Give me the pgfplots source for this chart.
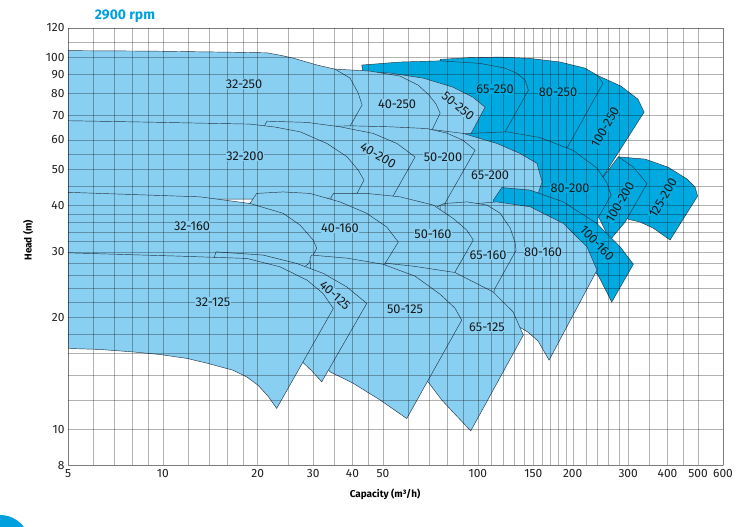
\documentclass[border=0pt]{standalone}
\usepackage{fontspec}
\setmainfont{Fira Sans}
\usepackage{pgfplots}
\pgfplotsset{compat=1.18}
\definecolor{lightreg}{RGB}{137,207,241}
\definecolor{darkreg}{RGB}{0,170,225}
\definecolor{outl}{RGB}{40,55,70}
\definecolor{titleblue}{RGB}{0,160,222}
\begin{document}
\begin{tikzpicture}
\useasboundingbox (-68bp,-61.5bp) rectangle (682bp,465.5bp);
\fill[titleblue] (-68bp,-79.5bp) circle (30bp);
\begin{axis}[
  name=ax, at={(0,0)}, anchor=south west,
  scale only axis, width=655bp, height=437.5bp,
  xmode=log, ymode=log,
  xmin=5, xmax=600, ymin=8, ymax=120,
  axis on top,
  xtick={5,10,20,30,40,50,100,150,200,300,400,500,600},
  xticklabels={5,10,20,30,40,50,100,150,200,300,400,500,600},
  minor xtick={6,7,8,9,12,14,16,18,25,35,45,60,70,80,90,110,120,130,140,160,170,180,190,220,240,260,280,350,450},
  ytick={8,10,20,30,40,50,60,70,80,90,100,120},
  yticklabels={8,10,20,30,40,50,60,70,80,90,100,120},
  minor ytick={12,14,16,18,22,24,26,28,32,34,36,38,45,55,110},
  grid=both,
  major grid style={black, opacity=0.3, line width=0.35pt},
  minor grid style={black, opacity=0.3, line width=0.35pt},
  axis line style={black, opacity=0.3, line width=0.35pt},
  major tick length=0pt, minor tick length=0pt,
  ticklabel style={font=\fontsize{12}{13}\selectfont, text=black!88},
  xlabel={Capacity (m³/h)},
  ylabel={Head (m)},
  xlabel style={font=\bfseries\fontsize{10}{12}\selectfont, at={(axis description cs:0.484,-0.065)}, anchor=center},
  ylabel style={font=\bfseries\fontsize{10}{12}\selectfont, at={(axis description cs:-0.061,0.515)}, anchor=center},
  lreg/.style={fill=lightreg, draw=outl, line width=0.45pt},
  dreg/.style={fill=darkreg, draw=outl, line width=0.45pt},
]
% ---- row 250 ----
\addplot[dreg] coordinates {(136.1,97.2) (182.4,96.0) (218.9,92.5) (238.9,89.6) (284.8,83.7) (322.5,77.2) (337,71.3) (251.5,48.3) (240.6,45.4) (182.4,51.3) (136.1,53.0)} -- cycle;
\addplot[dreg] coordinates {(75.9,98.8) (94.5,99.9) (117.6,100.2) (146.4,99.4) (182.4,97.2) (218.9,93.6) (238.9,89.6) (249.7,85.3) (191.5,56.9) (157.5,54.6) (75.9,54.6)} -- cycle;
\addplot[dreg] coordinates {(42.8,95.4) (56.6,97.2) (75.9,97.9) (101.6,96.4) (122,93.6) (133.2,90.6) (141.2,86.9) (144.7,81.7) (122,63.1) (101.6,56.3) (43.8,56.3) (43.2,91.3)} -- cycle;
\addplot[lreg] coordinates {(39.3,91.9) (52.6,90.8) (67.0,88.0) (83.4,83.2) (96.5,78.2) (105.4,73.5) (94.5,61.8) (75.9,59.9) (39.3,59.9)} -- cycle;
\addplot[lreg] coordinates {(27.3,93.6) (35.5,93.0) (45.5,91.9) (56.6,89.1) (64.6,84.3) (70.0,79.2) (73.7,74.9) (75.9,70.8) (71.5,63.8) (56.6,61.4) (27.3,61.4)} -- cycle;
\addplot[lreg] coordinates {(5,104.3) (9.1,104) (16.3,103.3) (21.4,102.9) (23.55,101.4) (25.9,99.6) (30.9,95.4) (35.2,93) (39.3,88) (41.7,80.2) (42.9,74.5) (39.3,65.4) (37.9,60.7) (13.1,61.8) (5,61.8)} -- cycle;
% ---- row 200 ----
\addplot[dreg] coordinates {(279.3,54.05) (339.4,53.3) (401.7,50.7) (461.5,47.1) (489.3,44.8) (498.3,42.4) (407.6,32.3) (359.8,34.8) (327.3,36.1) (300,36.75) (272.6,38.9)} -- cycle;
\addplot[dreg] coordinates {(279.3,54.05) (311,50.8) (344.4,45.8) (293.3,36.1) (262.8,32.3) (227,41.35) (249.7,47.7)} -- cycle;
\addplot[dreg] coordinates {(87.8,62.2) (94.5,62.5) (123.8,63.1) (157.5,60.9) (200.5,56.3) (238.9,50.4) (257.1,45.9) (264.7,42.6) (240.6,37.0) (240.6,34.35) (182.4,37.7) (117.6,40.1) (87.8,40.1)} -- cycle;
\addplot[lreg] coordinates {(56.6,64.6) (70.5,64.1) (89.7,62.5) (115.1,58.7) (136.1,55.2) (154.1,51.9) (156.4,49.5) (159.9,46.3) (155.3,43.1) (117.6,37.7) (56.6,37.7)} -- cycle;
\addplot[lreg] coordinates {(27.3,64.95) (39.3,65.5) (52.6,65.1) (69.0,64.4) (79.8,62.6) (89.7,59.9) (98.0,56.3) (78.7,40.6) (65.5,37.7) (27.3,37.7)} -- cycle;
\addplot[lreg] coordinates {(21.4,67.4) (28.7,66.9) (36.5,65.1) (46.5,62.5) (55.4,58.7) (63.2,54.0) (53.8,42.4) (42.3,41.35) (21.6,41.35) (21.0,65.4)} -- cycle;
\addplot[lreg] coordinates {(5,67.6) (9.1,67.0) (18.9,66.2) (22.7,65.0) (27.3,63.1) (33.2,58.7) (38.4,54.1) (41.7,49.8) (43.5,46.8) (41.4,43.2) (33.9,41.85) (18.9,41.6) (5,41.6)} -- cycle;
% ---- row 160 ----
\addplot[dreg] coordinates {(119.1,44.7) (146.4,44.0) (186.8,40.9) (238.4,35.8) (282.7,31.0) (311.6,27.8) (266.1,22.0) (240.6,26.0) (182.4,33.3) (136.1,37.7) (113.4,38.9) (112.0,41.35)} -- cycle;
\addplot[lreg] coordinates {(75.9,40.1) (94.5,40.35) (114.8,40.9) (146.4,39.7) (186.4,35.85) (222.1,30.96) (238.9,26.8) (168.3,15.36) (155.3,17.28) (144.3,18.26) (134.2,18.95) (101.6,22.27) (75.9,22.27)} -- cycle;
\addplot[lreg] coordinates {(78.7,40.5) (92.4,40.9) (106.9,40.1) (117.6,38.15) (126.6,34.8) (131.2,31.9) (132.2,30.3) (112.6,23.7) (112.6,22.3) (78.7,22.3)} -- cycle;
\addplot[lreg] coordinates {(34.8,43.1) (44.4,43.1) (56.6,42.2) (72.2,40.1) (83.6,36.9) (92.2,34.35) (96.7,32.3) (84.6,26.5) (84.6,25.2) (34.2,25.2) (34.2,42.1)} -- cycle;
\addplot[lreg] coordinates {(19.86,43.1) (24.1,43.5) (29.3,43.1) (36.5,40.9) (44.4,38.1) (51.4,35.0) (55.9,31.9) (50.7,27.9) (50.7,26.0) (18.9,26.0) (18.9,40.5)} -- cycle;
\addplot[lreg] coordinates {(5,43.4) (6.32,43.1) (13.1,42.2) (18.9,40.5) (24.1,38.1) (27.3,35.4) (30.0,32.3) (30.8,30.7) (29.0,27.9) (27.3,26.8) (13.1,28.2) (5,28.2)} -- cycle;
% ---- row 125 ----
\addplot[lreg] coordinates {(50.74,27.99) (62.27,27.48) (84.6,26.42) (111.7,23.43) (129.3,20.71) (139.4,17.93) (94.93,9.91) (84.6,10.99) (76.8,12.0) (69.6,13.4) (56.62,14.43) (50.74,22.27)} -- cycle;
\addplot[lreg] coordinates {(29.69,29.42) (38.43,28.87) (50.0,27.8) (63.19,25.83) (75.86,23.1) (84.6,21.19) (88.87,19.67) (59.46,10.7) (48.93,12.0) (40.24,13.3) (33.94,14.29) (30.41,16.3) (29.33,28.87)} -- cycle;
\addplot[lreg] coordinates {(14.75,30.02) (20.84,29.42) (26.61,27.94) (32.32,26.27) (38.35,24.17) (44.4,21.82) (31.94,13.43) (29.75,14.35) (27.93,15.1) (25.34,18.5) (14.54,28.9)} -- cycle;
\addplot[lreg] coordinates {(5,29.84) (11.34,29.23) (18.5,28.82) (23.55,27.36) (28.69,25.2) (32.25,23.2) (34.77,21.15) (22.98,11.39) (21.57,12.29) (20.05,13.15) (18.45,13.85) (16.7,14.43) (13.81,15.07) (11.94,15.52) (9.8,15.9) (8.04,16.16) (6.32,16.41) (5,16.51)} -- cycle;
% label anchors
\coordinate (a1) at (axis cs:18.1,84.8);
\coordinate (a2) at (axis cs:55.4,74.9);
\coordinate (a3) at (axis cs:86.5,74.0);
\coordinate (a4) at (axis cs:113.4,82.2);
\coordinate (a5) at (axis cs:179.7,80.65);
\coordinate (a6) at (axis cs:253.4,64.95);
\coordinate (b1) at (axis cs:18.24,54.3);
\coordinate (b2) at (axis cs:48.2,54.6);
\coordinate (b3) at (axis cs:77.5,53.95);
\coordinate (b4) at (axis cs:109.3,48.3);
\coordinate (b5) at (axis cs:196.2,44.55);
\coordinate (b6) at (axis cs:282.6,40.8);
\coordinate (b7) at (axis cs:387.1,41.85);
\coordinate (c1) at (axis cs:12.38,35.2);
\coordinate (c2) at (axis cs:36.5,34.76);
\coordinate (c3) at (axis cs:72.05,33.5);
\coordinate (c4) at (axis cs:107.7,29.42);
\coordinate (c5) at (axis cs:161.0,29.96);
\coordinate (c6) at (axis cs:238.9,31.68);
\coordinate (d1) at (axis cs:14.43,21.99);
\coordinate (d2) at (axis cs:35.21,22.96);
\coordinate (d3) at (axis cs:58.72,21.05);
\coordinate (d4) at (axis cs:106.9,18.84);
\coordinate (tt) at (rel axis cs:0.087,1);
\end{axis}
\tikzset{lab/.style={font=\fontsize{12.8}{14}\selectfont, inner sep=0.5pt, text=black!90}}
\node[lab, fill=lightreg] at (a1) {32-250};
\node[lab, fill=lightreg] at (a2) {40-250};
\node[lab, fill=lightreg, rotate=-40] at (a3) {50-250};
\node[lab, fill=darkreg] at (a4) {65-250};
\node[lab, fill=darkreg] at (a5) {80-250};
\node[lab, fill=darkreg, rotate=60] at (a6) {100-250};
\node[lab, fill=lightreg] at (b1) {32-200};
\node[lab, fill=lightreg, rotate=-30] at (b2) {40-200};
\node[lab, fill=lightreg] at (b3) {50-200};
\node[lab, fill=lightreg] at (b4) {65-200};
\node[lab, fill=darkreg] at (b5) {80-200};
\node[lab, fill=darkreg, rotate=60] at (b6) {100-200};
\node[lab, fill=darkreg, rotate=60] at (b7) {125-200};
\node[lab, fill=lightreg] at (c1) {32-160};
\node[lab, fill=lightreg] at (c2) {40-160};
\node[lab, fill=lightreg] at (c3) {50-160};
\node[lab, fill=lightreg] at (c4) {65-160};
\node[lab, fill=lightreg] at (c5) {80-160};
\node[lab, fill=darkreg, rotate=-47] at (c6) {100-160};
\node[lab, fill=lightreg] at (d1) {32-125};
\node[lab, fill=lightreg, rotate=-42] at (d2) {40-125};
\node[lab, fill=lightreg] at (d3) {50-125};
\node[lab, fill=lightreg] at (d4) {65-125};
\node[font=\bfseries\fontsize{14}{16}\selectfont, text=titleblue] at ([yshift=12bp]tt) {2900 rpm};
\end{tikzpicture}
\end{document}
